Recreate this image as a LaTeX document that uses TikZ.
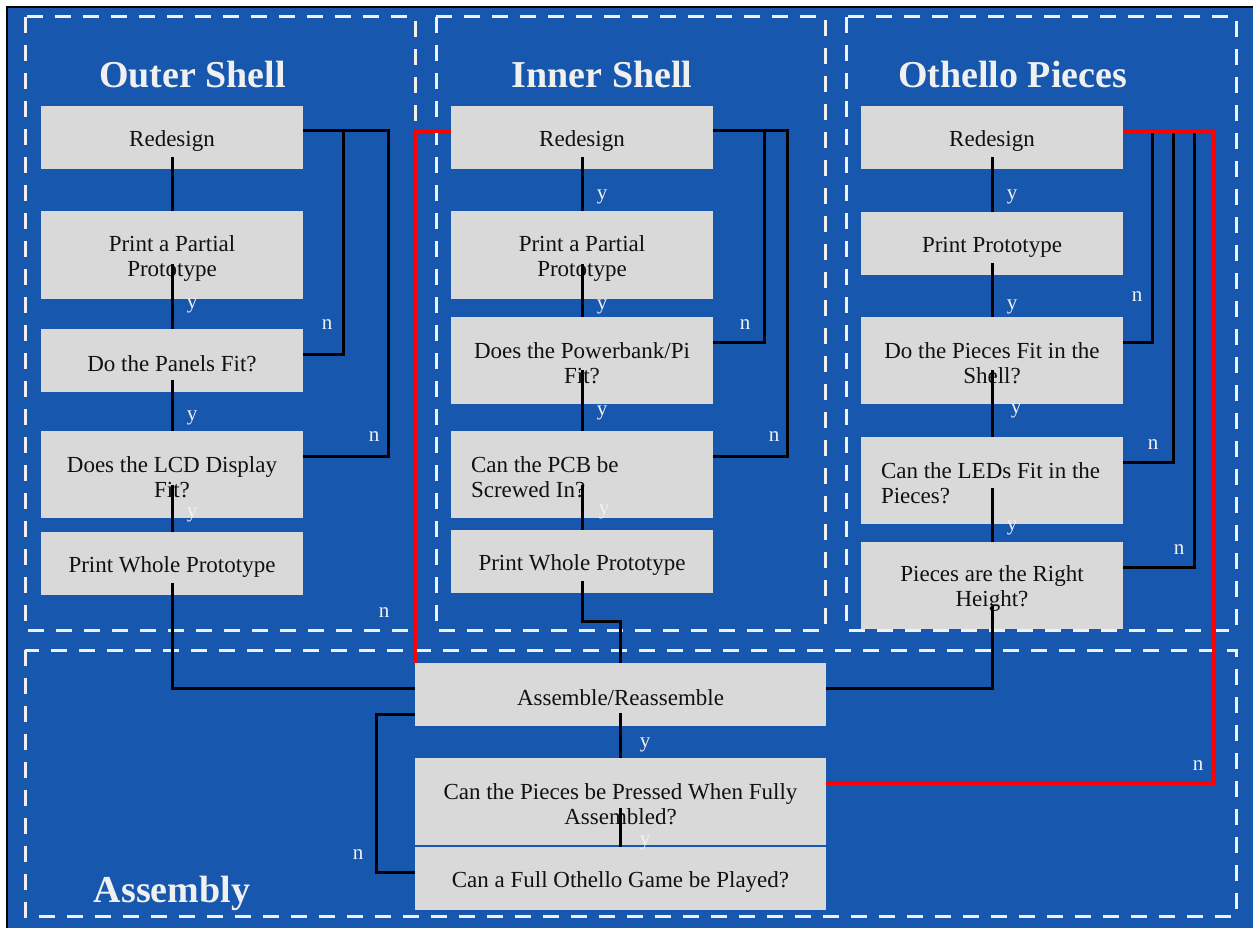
\documentclass[tikz,border=0pt]{standalone}
\usepackage{fontspec}
\setmainfont{Liberation Serif}
\usetikzlibrary{calc}
\definecolor{bgblue}{HTML}{1757AD}
\definecolor{boxgray}{HTML}{D9D9D9}
\definecolor{dashwhite}{HTML}{F0F0F0}
\definecolor{lblwhite}{HTML}{F2F2F2}
\definecolor{txtblack}{HTML}{111111}
\begin{document}
\begin{tikzpicture}[x=1pt,y=-1pt,
  stepbox/.style={fill=boxgray, inner sep=0pt, minimum width=262pt, text=txtblack,
    font=\fontsize{23}{25}\selectfont, text width=250pt, align=flush center, text height=22pt},
  leftbox/.style={text width=222pt, align=flush left},
  wide/.style={minimum width=411pt, text width=400pt},
  h63/.style={minimum height=63pt},
  h87/.style={minimum height=87pt},
  group/.style={draw=dashwhite, line width=3pt, dash pattern=on 16pt off 12pt},
  title/.style={text=dashwhite, font=\fontsize{38}{40}\selectfont\bfseries, anchor=base, inner sep=0pt},
  link/.style={draw=black, line width=3pt},
  redlink/.style={draw=red, line width=3.5pt},
  lbl/.style={text=lblwhite, font=\fontsize{21}{21}\selectfont, inner sep=0pt}
]
\useasboundingbox (0,0) rectangle (1253,928);
\fill[white] (0,0) rectangle (1253,928);
\fill[bgblue] (7,7) rectangle (1253,928);
\draw[black, line width=2pt] (7,928) -- (7,7) -- (1253,7);

% group frames
\draw[group] (25,17) rectangle (415,630);
\draw[group] (436,17) rectangle (825,630);
\draw[group] (846,17) rectangle (1236,630);
\draw[group] (25,650) rectangle (1236,916);

% titles
\node[title] (tOuter) at (192.5,88) {Outer Shell};
\node[title] (tInner) at (602,88) {Inner Shell};
\node[title] (tOth) at (1012.5,88) {Othello Pieces};
\node[title] (tAsm) at (172,902) {Assembly};

% outer shell
\node[stepbox,h63] (oR) at (172,137.5) {Redesign};
\node[stepbox,h87] (oP) at (172,255) {Print a Partial\\Prototype};
\node[stepbox,h63] (oF) at (172,360.5) {Do the Panels Fit?};
\node[stepbox,h87] (oL) at (172,474.5) {Does the LCD Display\\Fit?};
\node[stepbox,h63] (oW) at (172,563.5) {Print Whole Prototype};

% inner shell
\node[stepbox,h63] (iR) at (582,137.5) {Redesign};
\node[stepbox,h87] (iP) at (582,255) {Print a Partial\\Prototype};
\node[stepbox,h87] (iF) at (582,360.5) {Does the Powerbank/Pi\\Fit?};
\node[stepbox,h87,leftbox] (iS) at (582,474.5) {\mbox{Can the PCB be}\\\mbox{Screwed In?}};
\node[stepbox,h63] (iW) at (582,561.5) {Print Whole Prototype};

% othello pieces
\node[stepbox,h63] (pR) at (992,137.5) {Redesign};
\node[stepbox,h63] (pP) at (992,243.5) {Print Prototype};
\node[stepbox,h87] (pF) at (992,360.5) {Do the Pieces Fit in the\\Shell?};
\node[stepbox,h87,leftbox] (pL) at (992,480.5) {\mbox{Can the LEDs Fit in the}\\\mbox{Pieces?}};
\node[stepbox,h87] (pH) at (992,585.5) {Pieces are the Right\\Height?};

% assembly
\node[stepbox,wide,h63] (aA) at (620.5,694.5) {Assemble/Reassemble};
\node[stepbox,wide,h87] (aP) at (620.5,801.5) {Can the Pieces be Pressed When Fully\\Assembled?};
\node[stepbox,wide,h63] (aG) at (620.5,878.5) {Can a Full Othello Game be Played?};

% outer connectors
\draw[link] ([yshift=12pt]oR.south) -- (oP.north);
\draw[link] ([yshift=35pt]oP.south) -- (oF.north);
\draw[link] ([yshift=12pt]oF.south) -- (oL.north);
\draw[link] ([yshift=33pt]oL.south) -- (oW.north);
\draw[link] ([yshift=12pt]oW.south) |- ([yshift=6.5pt]aA.west);
\draw[link] ([yshift=6.5pt]oF.east) -- ++(40,0) |- ([yshift=6.5pt]oR.east);
\draw[link] ([yshift=18.5pt]oL.east) -- ++(85,0) |- ([yshift=6.5pt]oR.east);

% inner connectors
\draw[link] ([yshift=12pt]iR.south) -- (iP.north);
\draw[link] ([yshift=35pt]iP.south) -- (iF.north);
\draw[link] ([yshift=34pt]iF.south) -- (iS.north);
\draw[link] ([yshift=33pt]iS.south) -- (iW.north);
\draw[link] ([yshift=12pt]iW.south) -- ++(0,40) -| (aA.north);
\draw[link] ([yshift=18.5pt]iF.east) -- ++(51,0) |- ([yshift=6.5pt]iR.east);
\draw[link] ([yshift=18.5pt]iS.east) -- ++(74,0) |- ([yshift=6.5pt]iR.east);

% othello connectors
\draw[link] ([yshift=12pt]pR.south) -- (pP.north);
\draw[link] ([yshift=12pt]pP.south) -- (pF.north);
\draw[link] ([yshift=34pt]pF.south) -- (pL.north);
\draw[link] ([yshift=36pt]pL.south) -- (pH.north);
\draw[link] ([yshift=23pt]pH.south) |- ([yshift=6.5pt]aA.east);
\draw[link] ([yshift=18.5pt]pF.east) -- ++(29,0) |- ([yshift=6.5pt]pR.east);
\draw[link] ([yshift=18.5pt]pL.east) -- ++(50,0) |- ([yshift=6.5pt]pR.east);
\draw[link] ([yshift=18.5pt]pH.east) -- ++(71,0) |- ([yshift=6.5pt]pR.east);

% assembly connectors
\draw[link] ([yshift=13pt]aA.south) -- (aP.north);
\draw[link] ([yshift=37pt]aP.south) -- (aG.north);
\draw[link] ([yshift=6.5pt]aG.west) -- ++(-38,0) |- ([yshift=-19.5pt]aA.west);

% red feedback
\draw[redlink] (aA.north west) |- ([yshift=6.5pt]iR.west);
\draw[redlink] ([yshift=18.5pt]aP.east) -- ++(388,0) |- ([yshift=6.5pt]pR.east);

% labels
\node[lbl] (l1) at (192,306) {y};
\node[lbl] (l2) at (192,418) {y};
\node[lbl] (l3) at (192,515) {y};
\node[lbl] (l4) at (327,325) {n};
\node[lbl] (l5) at (374,437) {n};
\node[lbl] (l6) at (384,613) {n};
\node[lbl] (l7) at (602,197) {y};
\node[lbl] (l8) at (602,307) {y};
\node[lbl] (l9) at (602,413) {y};
\node[lbl] (l10) at (604,512) {y};
\node[lbl] (l11) at (745,325) {n};
\node[lbl] (l12) at (774,437) {n};
\node[lbl] (l13) at (1012,197) {y};
\node[lbl] (l14) at (1012,307) {y};
\node[lbl] (l15) at (1016,411) {y};
\node[lbl] (l16) at (1012,528) {y};
\node[lbl] (l17) at (1137,297) {n};
\node[lbl] (l18) at (1153,445) {n};
\node[lbl] (l19) at (1179,550) {n};
\node[lbl] (l20) at (645,745) {y};
\node[lbl] (l21) at (645,843) {y};
\node[lbl] (l22) at (358,855) {n};
\node[lbl] (l23) at (1198,766) {n};
\end{tikzpicture}
\end{document}
